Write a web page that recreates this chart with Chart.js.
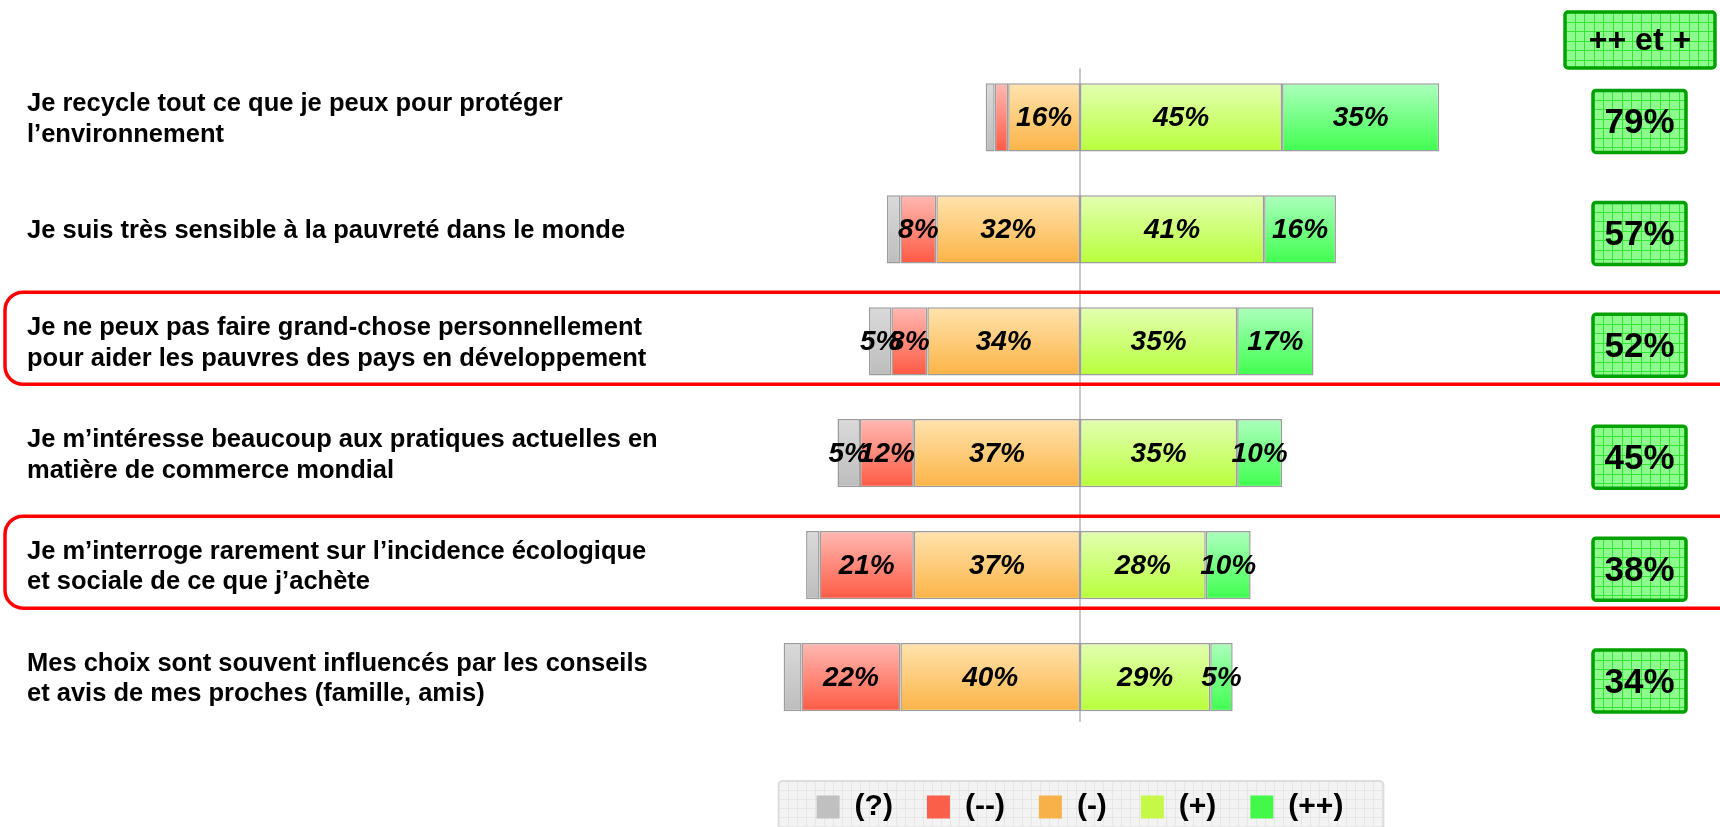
<!DOCTYPE html>
<html>
<head>
<meta charset="utf-8">
<script src="https://cdn.jsdelivr.net/npm/chart.js@4.4.0/dist/chart.umd.min.js"></script>
<style>
  html, body { margin: 0; padding: 0; background: #fff; }
  #wrap { width: 1720px; height: 827px; position: relative; }
</style>
</head>
<body>
<div id="wrap"><canvas id="myChart"></canvas></div>
<script>
// statements (one per row)
var labels = [
  ['Je recycle tout ce que je peux pour protéger', 'l’environnement'],
  'Je suis très sensible à la pauvreté dans le monde',
  ['Je ne peux pas faire grand-chose personnellement', 'pour aider les pauvres des pays en développement'],
  ['Je m’intéresse beaucoup aux pratiques actuelles en', 'matière de commerce mondial'],
  ['Je m’interroge rarement sur l’incidence écologique', 'et sociale de ce que j’achète'],
  ['Mes choix sont souvent influencés par les conseils', 'et avis de mes proches (famille, amis)']
];

// answers in %
var nsp      = [2, 3, 5, 5, 3, 4];       // (?)
var tresNeg  = [3, 8, 8, 12, 21, 22];    // (--)
var neg      = [16, 32, 34, 37, 37, 40]; // (-)
var pos      = [45, 41, 35, 35, 28, 29]; // (+)
var tresPos  = [35, 16, 17, 10, 10, 5];  // (++)
var totalPos = [79, 57, 52, 45, 38, 34]; // ++ et +

var seriesNames = ['(?)', '(--)', '(-)', '(+)', '(++)'];
var legendColors = ['#c0c0c0', '#fa5f4a', '#f8b048', '#c6f848', '#44f84a'];
var highlighted = [2, 4];

var FONT = '"Liberation Sans", Arial, sans-serif';

function grad(top, bottom) {
  return function (c) {
    var chart = c.chart;
    var y = chart.scales && chart.scales.y;
    if (!y || c.dataIndex === undefined) return bottom;
    var mid = y.getPixelForValue(c.dataIndex);
    var g = chart.ctx.createLinearGradient(0, mid - 34, 0, mid + 34);
    g.addColorStop(0, top);
    g.addColorStop(1, bottom);
    return g;
  };
}

function negative(arr) { return arr.map(function (v) { return -v; }); }

function gridBox(ctx, x, y, w, h, r, fill, line, step, border, bw) {
  ctx.save();
  ctx.beginPath();
  ctx.roundRect(x, y, w, h, r);
  ctx.fillStyle = fill;
  ctx.fill();
  ctx.clip();
  ctx.strokeStyle = line;
  ctx.lineWidth = 1;
  ctx.beginPath();
  for (var gx = x + step; gx < x + w; gx += step) { ctx.moveTo(Math.round(gx) + 0.5, y); ctx.lineTo(Math.round(gx) + 0.5, y + h); }
  for (var gy = y + step; gy < y + h; gy += step) { ctx.moveTo(x, Math.round(gy) + 0.5); ctx.lineTo(x + w, Math.round(gy) + 0.5); }
  ctx.stroke();
  ctx.restore();
  if (border) {
    ctx.save();
    ctx.beginPath();
    ctx.roundRect(x, y, w, h, r);
    ctx.strokeStyle = border;
    ctx.lineWidth = bw;
    ctx.stroke();
    ctx.restore();
  }
}

// zero line (a bit shorter than the plot area, like the original)
var zeroLine = {
  id: 'zeroLine',
  beforeDatasetsDraw: function (chart) {
    var ctx = chart.ctx, a = chart.chartArea;
    var x0 = chart.scales.x.getPixelForValue(0);
    ctx.save();
    ctx.strokeStyle = '#c6c6c6';
    ctx.lineWidth = 2;
    ctx.beginPath();
    ctx.moveTo(x0, a.top + 7);
    ctx.lineTo(x0, a.bottom - 11);
    ctx.stroke();
    ctx.restore();
  }
};

// labels inside the bars
var valueLabels = {
  id: 'valueLabels',
  afterDatasetsDraw: function (chart) {
    var ctx = chart.ctx;
    ctx.save();
    ctx.font = 'italic bold 28px ' + FONT;
    ctx.fillStyle = '#000';
    ctx.textAlign = 'center';
    ctx.textBaseline = 'middle';
    chart.data.datasets.forEach(function (ds, i) {
      chart.getDatasetMeta(i).data.forEach(function (bar, j) {
        var v = Math.abs(ds.data[j]);
        if (v < 5) return;
        ctx.fillText(v + '%', (bar.x + bar.base) / 2, bar.y + 1);
      });
    });
    ctx.restore();
  }
};

// legend background, red frames, "++ et +" column
var decorations = {
  id: 'decorations',
  beforeDraw: function (chart) {
    var ctx = chart.ctx;
    var boxes = chart.legend.legendHitBoxes;
    if (!boxes || !boxes.length) return;
    var l = boxes[0].left - 38;
    var last = boxes[boxes.length - 1];
    var r = last.left + last.width + 40;
    gridBox(ctx, l, 781, r - l, 70, 4, '#f3f3f3', '#e6e6e6', 9, '#dddddd', 2);
  },
  afterDraw: function (chart) {
    var ctx = chart.ctx;
    var y = chart.scales.y;
    ctx.save();
    highlighted.forEach(function (i) {
      var mid = y.getPixelForValue(i) - 3;
      ctx.beginPath();
      ctx.roundRect(5, mid - 46, 1740, 92, 18);
      ctx.strokeStyle = '#ff0000';
      ctx.lineWidth = 3.5;
      ctx.stroke();
    });
    ctx.restore();

    gridBox(ctx, 1565, 12, 150, 56, 3, '#8dfb8d', '#33e633', 9.5, '#00a000', 3.5);
    ctx.save();
    ctx.fillStyle = '#000';
    ctx.textAlign = 'center';
    ctx.textBaseline = 'middle';
    ctx.font = 'bold 32px ' + FONT;
    ctx.fillText('++ et +', 1640, 41);
    totalPos.forEach(function (v, i) {
      var mid = y.getPixelForValue(i) + 4;
      gridBox(ctx, 1593, mid - 31, 93, 62, 3, '#8dfb8d', '#33e633', 9.5, '#00a000', 3.5);
      ctx.fillStyle = '#000';
      ctx.font = 'bold 35px ' + FONT;
      ctx.fillText(v + '%', 1639.5, mid + 2);
    });
    ctx.restore();
  }
};

var ctx = document.getElementById('myChart').getContext('2d');
var chart = new Chart(ctx, {
  type: 'bar',
  data: {
    labels: labels,
    datasets: [
      { label: seriesNames[0], data: negative(nsp), order: 3, backgroundColor: grad('#dadada', '#bdbdbd') },
      { label: seriesNames[1], data: negative(tresNeg), order: 2, backgroundColor: grad('#ffb9b2', '#ff5a44') },
      { label: seriesNames[2], data: negative(neg), order: 1, backgroundColor: grad('#ffe3ae', '#fbb446') },
      { label: seriesNames[3], data: pos, order: 4, backgroundColor: grad('#e3ffb2', '#b8ff3c') },
      { label: seriesNames[4], data: tresPos, order: 5, backgroundColor: grad('#acffbc', '#40ff50') }
    ]
  },
  options: {
    indexAxis: 'y',
    responsive: true,
    maintainAspectRatio: false,
    animation: false,
    layout: { padding: { left: 27, right: 258.3, top: 61.5, bottom: -5 } },
    datasets: {
      bar: {
        barPercentage: 0.61,
        categoryPercentage: 1,
        borderColor: '#9c9c9c',
        borderWidth: 1.5,
        borderSkipped: false
      }
    },
    scales: {
      x: {
        stacked: true,
        min: -85,
        max: 85,
        ticks: { display: false },
        border: { display: false },
        grid: { display: false },
        afterFit: function (s) { s.height = 25; }
      },
      y: {
        stacked: true,
        border: { display: false },
        grid: { display: false },
        ticks: {
          crossAlign: 'far',
          padding: 0,
          labelOffset: 2,
          color: '#000',
          font: { family: FONT, size: 25.5, weight: 'bold', lineHeight: 1.2 }
        },
        afterFit: function (s) { s.width = 671.3; }
      }
    },
    plugins: {
      tooltip: { enabled: false },
      legend: {
        position: 'bottom',
        fullSize: false,
        labels: {
          color: '#000',
          boxWidth: 23,
          boxHeight: 23,
          padding: 34,
          font: { family: FONT, size: 30, weight: 'bold' },
          sort: function (a, b) { return a.datasetIndex - b.datasetIndex; },
          generateLabels: function (chart) {
            var items = Chart.defaults.plugins.legend.labels.generateLabels(chart);
            items.forEach(function (it) {
              it.fillStyle = legendColors[it.datasetIndex];
              it.strokeStyle = legendColors[it.datasetIndex];
              it.lineWidth = 0;
            });
            return items;
          }
        }
      }
    }
  },
  plugins: [zeroLine, valueLabels, decorations]
});
</script>
</body>
</html>
